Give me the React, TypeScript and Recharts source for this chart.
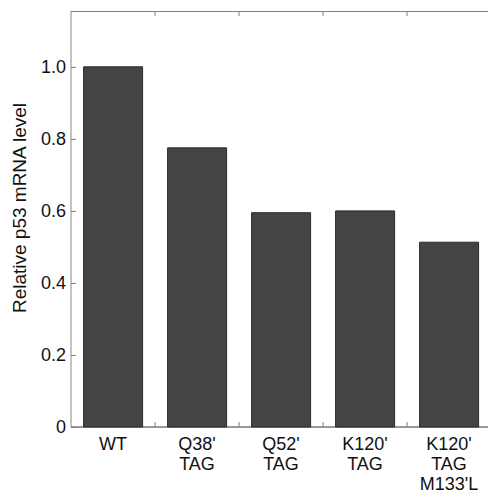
import { Bar, BarChart, XAxis, YAxis } from 'recharts';

const categories = ['WT', "Q38'\nTAG", "Q52'\nTAG", "K120'\nTAG", "K120'\nTAG\nM133'L"];
const levels = [1.0, 0.775, 0.595, 0.6, 0.513];
const yTicks = [0, 0.2, 0.4, 0.6, 0.8, 1.0];
const yLabel = 'Relative p53 mRNA level';

const data = categories.map((name, i) => ({ name, level: levels[i] }));

const FONT = '"Liberation Sans", Arial, sans-serif';
const BAND = 84;
const PLOT_TOP = 11;
const TICK = '#808080';

const indexOf = (value: any) => categories.indexOf(String(value));

// ticks sit on the boundaries between categories, on the bottom and top frame
function BottomTick(props: any) {
  const { payload } = props;
  const x = Number(props.x);
  const y = Number(props.y);
  const idx = indexOf(payload.value);
  const lines = String(payload.value).split('\n');
  const tx = x + BAND / 2;
  const left = x - BAND / 2;
  return (
    <g>
      {idx === 0 && (
        <path
          d={`M${left},${PLOT_TOP + 0.5}H${left + BAND * categories.length}`}
          stroke={TICK}
          strokeWidth={1}
          fill="none"
        />
      )}
      {idx < categories.length - 1 && (
        <g>
          <path d={`M${tx},${y}V${y - 5}`} stroke={TICK} strokeWidth={1} fill="none" />
          <path d={`M${tx},${PLOT_TOP}V${PLOT_TOP + 5}`} stroke={TICK} strokeWidth={1} fill="none" />
        </g>
      )}
      <text x={x} y={y} textAnchor="middle" fontFamily={FONT} fontSize={18} fill="#111">
        {lines.map((l, i) => (
          <tspan key={i} x={x} y={y + 23 + i * 20}>
            {l}
          </tspan>
        ))}
      </text>
    </g>
  );
}

// inward tick on the left axis plus its label
function LeftTick(props: any) {
  const { payload } = props;
  const x = Number(props.x);
  const y = Number(props.y);
  const v = Number(payload.value);
  return (
    <g>
      <path d={`M${x},${y + 0.5}H${x + 5}`} stroke={TICK} strokeWidth={1} fill="none" />
      <text x={x - 5} y={y + 6} textAnchor="end" fontFamily={FONT} fontSize={18} fill="#111">
        {v === 0 ? '0' : v.toFixed(1)}
      </text>
    </g>
  );
}

export default function App() {
  return (
    <div style={{ position: 'absolute', left: 0, top: 0, width: 488, height: 497, overflow: 'hidden', background: '#fff' }}>
      <BarChart
        width={500}
        height={497}
        data={data}
        margin={{ top: PLOT_TOP, right: 9, bottom: 0, left: 0 }}
        barCategoryGap="15%"
      >
        <XAxis
          dataKey="name"
          orientation="bottom"
          height={70}
          tickSize={0}
          tickMargin={0}
          tickLine={false}
          interval={0}
          tick={<BottomTick />}
          axisLine={{ stroke: '#333' }}
        />
        <YAxis
          width={71}
          domain={[0, 1.155]}
          ticks={yTicks}
          tickSize={0}
          tickMargin={0}
          tickLine={false}
          interval={0}
          tick={<LeftTick />}
          axisLine={{ stroke: '#888' }}
          label={{
            content: () => (
              <text
                x={19}
                y={208}
                transform="rotate(-90 19 208)"
                textAnchor="middle"
                dominantBaseline="central"
                fontFamily={FONT}
                fontSize={19}
                fill="#111"
              >
                {yLabel}
              </text>
            ),
          }}
        />
        <Bar
          dataKey="level"
          fill="#444444"
          stroke="#2a2a2a"
          strokeWidth={1}
          isAnimationActive={false}
        />
      </BarChart>
    </div>
  );
}
